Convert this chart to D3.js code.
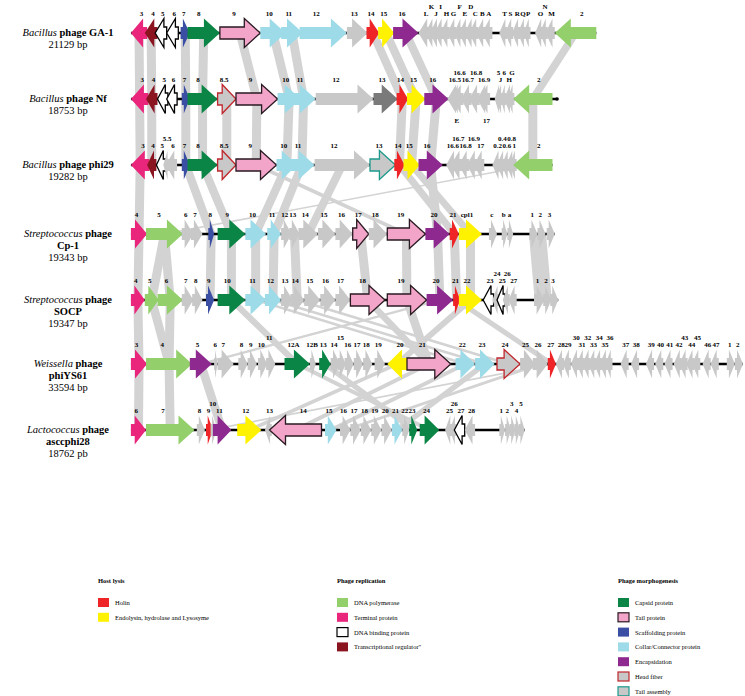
<!DOCTYPE html>
<html>
<head>
<meta charset="utf-8">
<script src="https://cdn.jsdelivr.net/npm/d3@7/dist/d3.min.js"></script>
<style>
  body { margin: 0; background: #fff; }
  svg { font-family: "Liberation Serif", "Times New Roman", serif; }
</style>
</head>
<body>
<div id="chart"></div>
<script>
// gene = [label, start, end, strand, type, labelRow]  (labelRow: 0 = above, 1 = above high, -1 = below)
// positions are map units along the track
var ga1Genes = [
  ["3",103,117,-1,"tp"],["4",115,126,-1,"tr"],["5",124,134,-1,"db"],["6",134,144,-1,"db"],
  ["7",146,154,1,"sca"],["8",152,180,1,"cap"],["9",180,215,1,"tail"],["10",215,237,1,"col"],
  ["11",233,252,1,"col"],["12",249,290,1,"col"],["13",290,308,1,"un"],["14",307,318,1,"hol"],
  ["15",317,331,1,"lys"],["16",330,352,1,"enc"],
  ["L",352,362,-1,"un"],["K",358,366,-1,"un",1],["J",362,370,-1,"un"],["I",366,374,-1,"un",1],
  ["H",371,379,-1,"un"],["G",377,385,-1,"un"],["F",383,390,-1,"un",1],["E",387,395,-1,"un"],
  ["D",392,400,-1,"un",1],["C",396,404,-1,"un"],["B",402,410,-1,"un"],["A",407,416,-1,"un"],
  ["T",422,429,-1,"un"],["S",427,434,-1,"un"],["R",433,440,-1,"un"],["Q",438,445,-1,"un"],["P",443,449,-1,"un"],
  ["O",453,460,-1,"un"],["N",457,464,-1,"un",1],["M",462,470,-1,"un"],
  ["2",470,506,-1,"pol"]
];
var nfGenes = [
  ["3",103,118,-1,"tp"],["4",116,126,-1,"tr"],["5",126,135,-1,"db"],["6",134,143,-1,"db"],
  ["7",147,154,1,"sca"],["8",152,178,1,"cap"],["8.5",178,194,1,"hf"],["9",194,230,1,"tail"],
  ["10",230,250,1,"col"],["11",242,263,1,"col"],["12",263,313,1,"un"],["13",313,334,1,"dk"],
  ["14",333,343,1,"hol"],["15",342,358,1,"lys"],["16",357,378,1,"enc"],
  ["16.5",377,387,-1,"un"],["16.6",381,391,-1,"un",1],["E",380,388,-1,"un",-1],["16.7",389,398,-1,"un"],
  ["16.8",396,405,-1,"un",1],["16.9",403,412,-1,"un"],["17",405,414,-1,"un",-1],
  ["J",419,425,-1,"un"],["5",418,423,-1,"un",1],["6",423,428,-1,"un",1],["H",426,433,-1,"un"],["G",429,435,-1,"un",1],
  ["2",434,468,-1,"pol"]
];
var phi29Genes = [
  ["3",103,119,-1,"tp"],["4",117,125,-1,"tr"],["5",125,133,-1,"db"],["5.5",131,136,-1,"un",1],["6",133,143,-1,"un"],
  ["7",147,154,1,"sca"],["8",152,178,1,"cap"],["8.5",178,194,1,"hf"],["9",194,229,1,"tail"],
  ["10",229,247,1,"col"],["11",240,262,1,"col"],["12",262,310,1,"un"],["13",310,332,1,"ta"],
  ["14",331,340,1,"hol"],["15",339,353,1,"lys"],["16",352,373,1,"enc"],
  ["16.6",376,385,-1,"un"],["16.7",380,390,-1,"un",1],["16.8",387,396,-1,"un"],["16.9",394,403,-1,"un",1],["17",400,409,-1,"un"],
  ["0.2",416,423,-1,"un"],["0.4",420,427,-1,"un",1],["0.6",424,431,-1,"un"],["0.8",428,435,-1,"un",1],["1",431,437,-1,"un"],
  ["2",434,468,-1,"pol"]
];
var cp1Genes = [
  ["4",103,117,1,"tp"],["5",116,148,1,"pol"],["6",147,157,1,"un"],["7",155,165,1,"un"],["8",170,175,1,"sca"],
  ["9",178,202,1,"cap"],["10",202,220,1,"col"],["11",221,233,1,"col"],["12",233,242,1,"un"],["13",240,249,1,"un"],
  ["14",248,265,1,"un"],["15",265,280,1,"un"],["16",280,295,1,"un"],["17",295,309,1,"tail"],["18",309,325,1,"un"],
  ["19",325,358,1,"tail"],["20",358,379,1,"enc"],["21",379,387,1,"hol"],["cpl1",387,407,1,"lys"],
  ["c",413,420,1,"un"],["b",424,429,1,"un"],["a",429,434,1,"un"],["1",448,455,1,"un"],["2",455,462,1,"un"],["3",463,470,1,"un"]
];
var socpGenes = [
  ["4",103,115,1,"tp"],["5",115,127,1,"pol"],["6",126,148,1,"pol"],["7",147,157,1,"un"],["8",156,165,1,"un"],
  ["9",168,175,1,"sca"],["10",178,202,1,"cap"],["11",202,220,1,"col"],["12",219,233,1,"col"],["13",233,243,1,"un"],
  ["14",241,253,1,"un"],["15",253,267,1,"un"],["16",267,280,1,"un"],["17",280,293,1,"un"],["18",293,323,1,"tail"],
  ["19",325,359,1,"tail"],["20",359,382,1,"enc"],["21",382,388,1,"hol"],["22",387,407,1,"lys"],
  ["23",408,417,-1,"db"],["24",416,422,-1,"un",1],["25",420,427,-1,"db"],["26",425,431,-1,"un",1],["27",430,437,-1,"un"],
  ["1",452,461,1,"un"],["2",460,467,1,"un"],["3",466,473,1,"un"]
];
var ys61Genes = [
  ["3",103,117,1,"tp"],["4",116,156,1,"pol"],["5",154,173,1,"enc"],["6",175,178,1,"un"],["7",178,192,1,"un"],
  ["8",196,204,1,"un"],["9",204,212,1,"un"],["10",213,221,1,"un"],["11",220,228,1,"un",1],["12A",236,258,1,"cap"],
  ["12B",258,263,1,"un"],["13",266,276,1,"cap"],["14",276,284,1,"un"],["15",282,289,1,"un",1],["16",288,296,1,"un"],
  ["17",296,304,1,"un"],["18",304,312,1,"un"],["19",314,323,1,"un"],["20",325,342,-1,"lys"],["21",342,380,1,"tail"],
  ["22",384,401,1,"col"],["23",401,418,1,"col"],["24",420,440,1,"hf"],["25",440,453,1,"un"],["26",451,464,1,"un"],
  ["27",464,471,1,"hol"],["28",471,478,-1,"un"],["29",477,484,-1,"un"],["30",484,491,-1,"un",1],["31",489,496,-1,"un"],
  ["32",494,501,-1,"un",1],["33",499,506,-1,"un"],["34",504,511,-1,"un",1],["35",509,516,-1,"un"],["36",514,520,-1,"un",1],
  ["37",527,534,-1,"un"],["38",536,543,-1,"un"],["39",549,556,-1,"un"],["40",557,564,-1,"un"],["41",565,572,-1,"un"],
  ["42",573,580,-1,"un"],["43",578,585,-1,"un",1],["44",584,591,-1,"un"],["45",589,596,-1,"un",1],["46",598,605,-1,"un"],
  ["47",605,612,-1,"un"],["1",619,626,1,"un"],["2",626,633,1,"un"]
];
var ascGenes = [
  ["6",103,116,1,"tp"],["7",116,158,1,"pol"],["8",160,167,1,"un"],["9",168,174,1,"hol"],["10",172,177,1,"un",1],
  ["11",174,190,1,"enc"],["12",195,216,1,"lys"],["13",219,225,-1,"un"],["14",223,268,-1,"tail"],["15",271,281,1,"col"],
  ["16",284,293,1,"un"],["17",293,302,1,"un"],["18",302,311,1,"un"],["19",311,320,1,"un"],["20",320,329,1,"un"],
  ["21",329,338,1,"col"],["22",338,344,1,"un"],["23",344,351,1,"cap"],["24",353,370,1,"cap"],["25",375,381,-1,"un"],
  ["26",379,385,-1,"un",1],["27",383,392,-1,"db"],["28",392,401,-1,"un"],
  ["1",422,427,1,"un"],["2",427,432,1,"un"],["3",431,436,1,"un",1],["4",435,440,1,"un"],["5",439,444,1,"un",1]
];

var phageNames = ["GA-1","Nf","phi29","Cp-1","SOCP","phiYS61","asccphi28"];
var phageHosts = ["Bacillus","Bacillus","Bacillus","Streptococcus","Streptococcus","Weissella","Lactococcus"];
var genomeSizes = ["21129 bp","18753 bp","19282 bp","19343 bp","19347 bp","33594 bp","18762 pb"];
var trackEnds = [506, 472, 468, 470, 473, 633, 444];
var genomes = [ga1Genes, nfGenes, phi29Genes, cp1Genes, socpGenes, ys61Genes, ascGenes];

// homologous genes between neighbouring rows: [upper gene, lower gene]
var links01 = [["3","3"],["4","4"],["7","7"],["8","8"],["9","9"],["10","10"],["11","11"],["14","14"],["15","15"],["16","16"],["2","2"]];
var links12 = [["3","3"],["4","4"],["7","7"],["8","8"],["8.5","8.5"],["9","9"],["10","10"],["11","11"],["14","14"],["15","15"],["16","16"],["2","2"]];
var links23 = [["3","4"],["7","8"],["8","9"],["10","10"],["11","11"],["9","19"],["12","14"],["16","20"],["14","21"],["15","cpl1"],["2","5"]];
var links34 = [["4","4"],["5","5"],["5","6"],["8","9"],["9","10"],["10","11"],["11","12"],["13","14"],["17","18"],["19","19"],["20","20"],["21","21"],["cpl1","22"],["1","1"],["2","2"]];
var links45 = [["4","3"],["5","4"],["6","4"],["10","12A"],["11","22"],["12","23"],["18","21"],["19","21"],["20","5"],["21","27"],["22","20"],["14","24"]];
var links56 = [["3","6"],["4","7"],["5","11"],["27","9"],["20","12"],["21","14"],["22","15"],["23","21"],["12A","24"],["26","16"],["13","23"]];
var allLinks = [links01, links12, links23, links34, links45, links56];

var legendHeads = ["Host lysis","Phage replication","Phage morphogenesis"];
var legendLysis = [["hol","Holin"],["lys","Endolysin, hydrolase and Lysosyme"]];
var legendRepl = [["pol","DNA polymerase"],["tp","Terminal protein"],["db","DNA binding protein"],["tr","Transcriptional regulator\""]];
var legendMorph = [["cap","Capsid protein"],["tail","Tail protein"],["sca","Scaffolding protein"],["col","Collar/Connector protein"],["enc","Encapsidation"],["hf","Head fiber"],["ta","Tail assembly"]];

var fills = {tp:"#e9267c", tr:"#8a1420", db:"#ffffff", pol:"#93cf6a", hol:"#ee2427", lys:"#fff200",
  cap:"#0b8545", tail:"#f2a5c9", sca:"#3a4ea3", col:"#9edbe8", enc:"#8e2a8f", hf:"#c8c8c8", ta:"#c8c8c8",
  un:"#c8c8c8", dk:"#7a7a7a"};
var strokes = {db:"#000000", tail:"#2a1a22", hf:"#c0272d", ta:"#1d9a8c"};

var W = 745, H = 696;
var rowY = [33, 99, 165, 234, 300, 364, 430];
var x = d3.scaleLinear().domain([0, 620]).range([12, 728]);
var svg = d3.select("#chart").append("svg").attr("width", W).attr("height", H);

function findGene(list, name) {
  for (var i = 0; i < list.length; i++)
    if (list[i][0] == name) return list[i];
}
function mid(g) { return (x(g[1]) + x(g[2])) / 2; }

// link bands
var bandG = svg.append("g");
allLinks.forEach(function(links, r) {
  links.forEach(function(l) {
    var a = findGene(genomes[r], l[0]), b = findGene(genomes[r+1], l[1]);
    if (!a || !b) return;
    var xa = mid(a), xb = mid(b), w = 4.5;
    var ya = rowY[r], yb = rowY[r+1];
    bandG.append("path")
      .attr("d", "M" + (xa-w) + "," + ya + "L" + (xa+w) + "," + ya + "L" + (xb+w) + "," + yb + "L" + (xb-w) + "," + yb + "Z")
      .style("fill", "#d3d3d3");
  });
});

function genePath(g, y) {
  var x1 = x(g[1]), x2 = x(g[2]), len = x2 - x1;
  var head = Math.min(16, len * 0.75), body = len - head;
  var hb = 6, hh = 14.5;
  var p, xb;
  if (g[3] > 0) {
    xb = x1 + body;
    p = [[x1,y-hb],[xb,y-hb],[xb,y-hh],[x2,y],[xb,y+hh],[xb,y+hb],[x1,y+hb]];
  } else {
    xb = x2 - body;
    p = [[x2,y-hb],[xb,y-hb],[xb,y-hh],[x1,y],[xb,y+hh],[xb,y+hb],[x2,y+hb]];
  }
  return "M" + p.map(function(q) { return q[0].toFixed(1) + "," + q[1].toFixed(1); }).join("L") + "Z";
}

genomes.forEach(function(genes, r) {
  var y = rowY[r];
  var g = svg.append("g");
  var lo = d3.min(genes, function(d) { return d[1]; });
  g.append("line").attr("x1", x(lo)).attr("x2", x(trackEnds[r])).attr("y1", y).attr("y2", y)
    .style("stroke", "#000").style("stroke-width", 2.5);
  if (trackEnds[r] > d3.max(genes, function(d) { return d[2]; }) + 2)
    g.append("circle").attr("cx", x(trackEnds[r])).attr("cy", y).attr("r", 1.8).style("fill", "#000");
  g.selectAll("path.gene").data(genes).enter().append("path")
    .attr("class", "gene")
    .attr("d", function(d) { return genePath(d, y); })
    .style("fill", function(d) { return fills[d[4]]; })
    .style("stroke", function(d) { return strokes[d[4]] || "none"; })
    .style("stroke-width", function(d) { return strokes[d[4]] ? 1.3 : 0; });
  g.selectAll("text.num").data(genes).enter().append("text")
    .attr("class", "num")
    .attr("x", function(d) { var len = x(d[2]) - x(d[1]); return mid(d) - d[3] * 0.15 * len; })
    .attr("y", function(d) { return d[5] == 1 ? y - 24 : (d[5] == -1 ? y + 24 : y - 17); })
    .attr("text-anchor", "middle")
    .style("font-size", "7px")
    .style("font-weight", "bold")
    .text(function(d) { return d[0]; });

  // genome label
  var lx = 68;
  var lab = svg.append("text").attr("x", lx).attr("y", y + 3).attr("text-anchor", "middle").style("font-size", "10.5px");
  lab.append("tspan").style("font-style", "italic").text(phageHosts[r]);
  if (r < 3) {
    lab.append("tspan").style("font-weight", "bold").text(" phage " + phageNames[r]);
    svg.append("text").attr("x", lx).attr("y", y + 15).attr("text-anchor", "middle").style("font-size", "10.5px").text(genomeSizes[r]);
  } else {
    lab.append("tspan").style("font-weight", "bold").text(" phage");
    svg.append("text").attr("x", lx).attr("y", y + 15).attr("text-anchor", "middle").style("font-size", "10.5px")
      .style("font-weight", "bold").text(phageNames[r]);
    svg.append("text").attr("x", lx).attr("y", y + 27).attr("text-anchor", "middle").style("font-size", "10.5px").text(genomeSizes[r]);
  }
});

// legend
var legX = [98, 337, 618], legY = 583;
[legendLysis, legendRepl, legendMorph].forEach(function(items, c) {
  svg.append("text").attr("x", legX[c]).attr("y", legY).style("font-size", "6.5px").style("font-weight", "bold").text(legendHeads[c]);
  items.forEach(function(it, i) {
    var yy = legY + 22 + i * 14.8;
    svg.append("rect").attr("x", legX[c]).attr("y", yy - 7).attr("width", 11).attr("height", 9)
      .style("fill", fills[it[0]]).style("stroke", strokes[it[0]] || "none").style("stroke-width", strokes[it[0]] ? 1.2 : 0);
    svg.append("text").attr("x", legX[c] + 17).attr("y", yy).style("font-size", "6.5px").text(it[1]);
  });
});
</script>
</body>
</html>
